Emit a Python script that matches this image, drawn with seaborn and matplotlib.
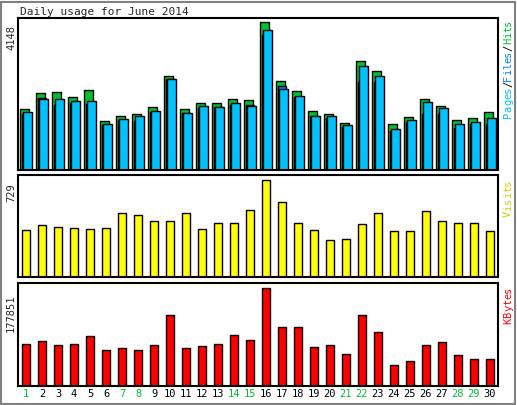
import matplotlib
matplotlib.use("Agg")
import matplotlib.pyplot as plt
import numpy as np
import pandas as pd
import seaborn as sns

days = list(range(1, 31))
weekend = [1, 7, 8, 14, 15, 21, 22, 28, 29]

hits = [1716, 2174, 2202, 2059, 2260, 1373, 1516, 1573, 1773, 2632, 1716, 1888, 1888, 2002, 1974,
        4148, 2488, 2231, 1659, 1573, 1316, 3060, 2774, 1287, 1487, 2002, 1802, 1402, 1459, 1630]
files = [1573, 2031, 1831, 1888, 1859, 1259, 1402, 1373, 1630, 2546, 1602, 1745, 1773, 1831, 1831,
         3804, 2374, 2059, 1516, 1459, 1201, 2460, 2460, 1087, 1344, 1573, 1573, 1173, 1287, 1287]
pages = [1630, 2002, 2002, 1945, 1945, 1287, 1430, 1516, 1659, 2546, 1602, 1802, 1773, 1888, 1802,
         3947, 2288, 2088, 1516, 1516, 1259, 2918, 2631, 1144, 1402, 1917, 1745, 1287, 1344, 1459]
visits = [353, 392, 376, 368, 361, 368, 478, 463, 423, 423, 478, 361, 408, 408, 502,
          729, 564, 408, 353, 274, 282, 400, 478, 345, 345, 494, 423, 408, 408, 345]
kbytes = [76242, 81859, 74370, 76242, 91219, 64385, 68129, 64385, 73746, 128038, 68129, 71873, 76242,
          93091, 83731, 177851, 106819, 106819, 69998, 73746, 58763, 128038, 98083, 37545, 45033,
          73746, 79362, 56893, 49401, 49401]

C_HITS, C_FILES, C_PAGES = "#00c030", "#0080ff", "#00c0ff"
C_VIS, C_KB = "#ffff00", "#ff0000"

sns.set_style("white")
plt.rcParams["font.family"] = ["DejaVu Sans Mono"]

W, H = 517, 405
fig = plt.figure(figsize=(W / 100, H / 100), dpi=100)
fig.patch.set_facecolor("white")


def add_ax(x0, y0, x1, y1):
    return fig.add_axes([x0 / W, 1 - y1 / H, (x1 - x0) / W, (y1 - y0) / H])


def frame(ax):
    for s in ax.spines.values():
        s.set_linewidth(1.5)
        s.set_color("black")
    ax.set_xticks([])
    ax.set_yticks([])
    ax.set_xlim(0.5, 30.5)
    ax.set_xlabel("")
    ax.set_ylabel("")


d = np.array(days, dtype=float)
ax1 = add_ax(18, 18, 498, 170)
ax1.bar(d - 0.12, hits, width=0.56, color=C_HITS, edgecolor="black", linewidth=1)
ax1.bar(d, files, width=0.56, color=C_FILES, edgecolor="black", linewidth=1)
ax1.bar(d + 0.12, pages, width=0.56, color=C_PAGES, edgecolor="black", linewidth=1)
ax1.set_ylim(0, max(hits) * 1.03)
frame(ax1)

df = pd.DataFrame({"day": d, "visits": visits, "kbytes": kbytes})
ax2 = add_ax(18, 175, 498, 277)
sns.barplot(data=df, x="day", y="visits", native_scale=True, color=C_VIS, saturation=1,
            width=0.55, edgecolor="black", linewidth=1, ax=ax2)
ax2.set_ylim(0, max(visits) * 1.05)
frame(ax2)

ax3 = add_ax(18, 283, 498, 386)
sns.barplot(data=df, x="day", y="kbytes", native_scale=True, color=C_KB, saturation=1,
            width=0.55, edgecolor="black", linewidth=1, ax=ax3)
ax3.set_ylim(0, max(kbytes) * 1.05)
frame(ax3)

fs = 7.5
fig.text(20 / W, 1 - 12 / H, "Daily usage for June 2014", fontsize=8, va="center", ha="left")
fig.text(11 / W, 1 - 38 / H, str(max(hits)), rotation=90, fontsize=fs, ha="center", va="center")
fig.text(11 / W, 1 - 193 / H, str(max(visits)), rotation=90, fontsize=fs, ha="center", va="center")
fig.text(11 / W, 1 - 313 / H, str(max(kbytes)), rotation=90, fontsize=fs, ha="center", va="center")

# right-side legends (vertical, read bottom-to-top)
step = 6.1
def vlegend(parts, y_top):
    total = sum(len(p) for p, _ in parts)
    y = y_top + total * step
    for txt, col in parts:
        for ch in txt:
            y -= step
            fig.text(508 / W, 1 - (y + step / 2) / H, ch, rotation=90, fontsize=fs,
                     color=col, ha="center", va="center")

vlegend([("Pages", C_PAGES), ("/", "black"), ("Files", C_FILES), ("/", "black"), ("Hits", C_HITS)], 20)
vlegend([("Visits", "#d0d000")], 180)
vlegend([("KBytes", C_KB)], 287)

for day in days:
    x = 18 + (day - 0.5) * 16
    fig.text(x / W, 1 - 394 / H, str(day), fontsize=fs, ha="center", va="center",
             color=C_HITS if day in weekend else "black")

fig.add_artist(plt.Rectangle((1 / W, 1 / H), 1 - 3 / W, 1 - 3 / H, fill=False,
                             edgecolor="#808080", linewidth=1.5, transform=fig.transFigure))
fig.savefig("out.png", dpi=100)
